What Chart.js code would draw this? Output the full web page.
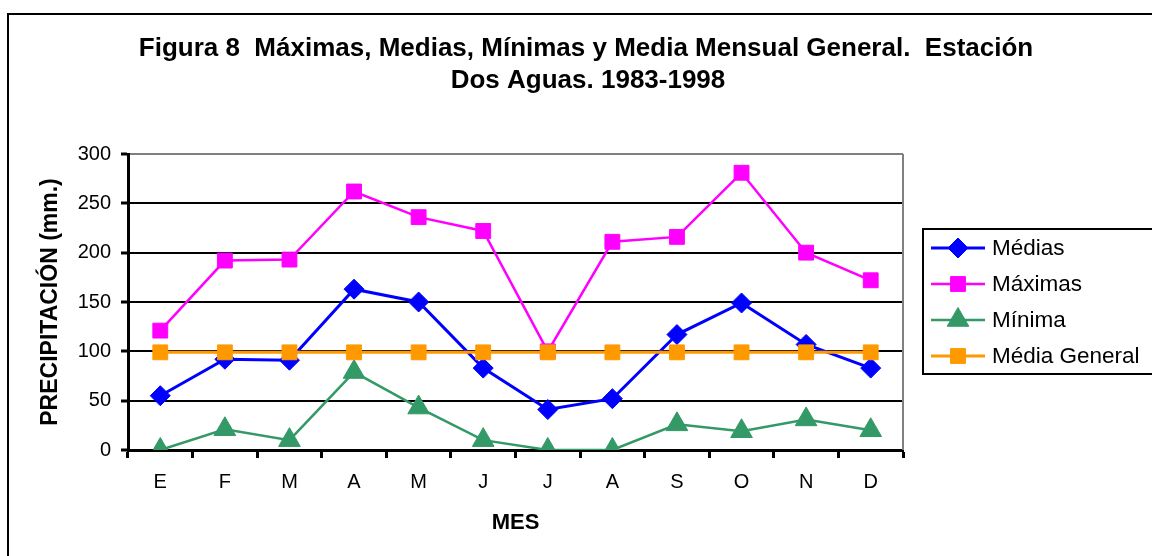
<!DOCTYPE html>
<html>
<head>
<meta charset="utf-8">
<script src="https://cdn.jsdelivr.net/npm/chart.js@4"></script>
<style>
  body { margin: 0; background: #fff; }
  #wrap { width: 1152px; height: 556px; position: relative; }
</style>
</head>
<body>
<div id="wrap"><canvas id="chartCvs"></canvas></div>
<script>
// datos
const meses = ['E', 'F', 'M', 'A', 'M', 'J', 'J', 'A', 'S', 'O', 'N', 'D'];
const medias = [55, 92, 91, 163, 150, 83, 41, 52, 117, 149, 107, 83];
const maximas = [121, 192, 193, 262, 236, 222, 100, 211, 216, 281, 200, 172];
const minima = [0, 21, 10, 79, 43, 10, 0, 0, 26, 19, 31, 20];
const mediaGeneral = [99, 99, 99, 99, 99, 99, 99, 99, 99, 99, 99, 99];
const yTicks = [0, 50, 100, 150, 200, 250, 300];

const tituloLineas = ['Figura 8  Máximas, Medias, Mínimas y Media Mensual General.  Estación', 'Dos Aguas. 1983-1998'];
const FONT = 'Arial, "Liberation Sans", sans-serif';

// marco, titulo, borde del area y leyenda con caja
const decoPlugin = {
  id: 'deco',
  beforeDatasetsDraw(chart) {
    const ctx = chart.ctx;
    const a = chart.chartArea;
    ctx.save();
    ctx.strokeStyle = '#808080';
    ctx.lineWidth = 2;
    ctx.beginPath();
    ctx.moveTo(a.right, a.top);
    ctx.lineTo(a.right, a.bottom);
    ctx.stroke();
    ctx.restore();
  },
  afterDraw(chart) {
    const ctx = chart.ctx;
    ctx.save();
    // marco exterior
    ctx.strokeStyle = '#000';
    ctx.lineWidth = 2;
    ctx.beginPath();
    ctx.moveTo(8, 560);
    ctx.lineTo(8, 14);
    ctx.lineTo(1160, 14);
    ctx.stroke();

    // titulo
    ctx.fillStyle = '#000';
    ctx.font = 'bold 26px ' + FONT;
    ctx.textAlign = 'center';
    ctx.textBaseline = 'middle';
    ctx.fillText(tituloLineas[0], 586, 49);
    ctx.fillText(tituloLineas[1], 588, 81);

    // leyenda
    ctx.lineWidth = 2;
    ctx.strokeRect(923, 229, 260, 145);
    ctx.font = '22.5px ' + FONT;
    ctx.textAlign = 'left';
    const rows = [248, 284, 320, 356];
    chart.data.datasets.forEach((ds, i) => {
      const y = rows[i];
      ctx.strokeStyle = ds.borderColor;
      ctx.lineWidth = ds.borderWidth;
      ctx.beginPath();
      ctx.moveTo(931, y);
      ctx.lineTo(985, y);
      ctx.stroke();
      ctx.fillStyle = ds.pointBackgroundColor;
      ctx.strokeStyle = ds.pointBackgroundColor;
      ctx.lineWidth = 1;
      Chart.helpers.drawPoint(ctx, {pointStyle: ds.pointStyle, radius: ds.pointRadius, borderWidth: 1, rotation: 0}, 958, y);
      ctx.fillStyle = '#000';
      ctx.fillText(ds.label, 992, y + 1);
    });
    ctx.restore();
  }
};

function serie(label, data, color, style, radius, width, order) {
  return {
    label: label,
    data: data,
    borderColor: color,
    backgroundColor: color,
    pointBackgroundColor: color,
    pointBorderColor: color,
    pointBorderWidth: 1,
    pointStyle: style,
    pointRadius: radius,
    pointHoverRadius: radius,
    borderWidth: width,
    tension: 0,
    order: order
  };
}

const ctx = document.getElementById('chartCvs').getContext('2d');
const config = {
  type: 'line',
  data: {
    labels: meses,
    datasets: [
      serie('Médias', medias, '#0000FF', 'rectRot', 10, 3, 1),
      serie('Máximas', maximas, '#FF00FF', 'rect', 10.5, 2.5, 2),
      serie('Mínima', minima, '#339966', 'triangle', 12.5, 2.5, 3),
      serie('Média General', mediaGeneral, '#FF9900', 'rect', 10.5, 3, 0)
    ]
  },
  options: {
    responsive: true,
    maintainAspectRatio: false,
    animation: false,
    layout: { padding: { top: 154, right: 249, bottom: 0, left: 0 } },
    plugins: {
      legend: { display: false },
      title: { display: false },
      tooltip: { enabled: false }
    },
    scales: {
      x: {
        offset: true,
        grid: {
          offset: true,
          drawOnChartArea: false,
          drawTicks: true,
          tickLength: 8,
          tickColor: '#000',
          tickWidth: 3
        },
        border: { color: '#000', width: 3 },
        ticks: { color: '#000', font: { family: FONT, size: 20 }, padding: 12 },
        title: {
          display: true,
          text: 'MES',
          color: '#000',
          font: { family: FONT, size: 22, weight: 'bold' },
          padding: { top: 0, bottom: 20 }
        },
        afterFit(s) { s.height = 106; }
      },
      y: {
        min: 0,
        max: 300,
        afterBuildTicks(s) { s.ticks = yTicks.map(v => ({ value: v })); },
        grid: {
          color: (c) => (c.tick && c.tick.value === 300 ? '#808080' : '#000'),
          lineWidth: 2,
          tickLength: 7,
          tickColor: '#000',
          tickWidth: 3
        },
        border: { color: '#000', width: 3 },
        ticks: { color: '#000', font: { family: FONT, size: 20 }, padding: 10 },
        title: {
          display: true,
          text: 'PRECIPITACIÓN (mm.)',
          color: '#000',
          font: { family: FONT, size: 23, weight: 'bold' },
          padding: { top: 37, bottom: 0 }
        },
        afterFit(s) { s.width = 128; }
      }
    }
  },
  plugins: [decoPlugin]
};
const lineChart = new Chart(ctx, config);
</script>
</body>
</html>
